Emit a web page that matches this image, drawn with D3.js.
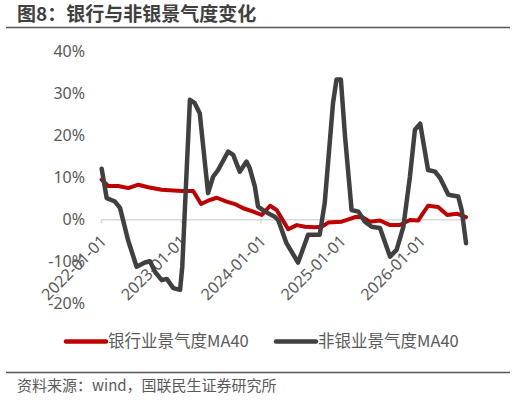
<!DOCTYPE html>
<html>
<head>
<meta charset="utf-8">
<script src="https://cdn.jsdelivr.net/npm/d3@7"></script>
<style>
  body { margin: 0; background: #fff; }
  text { font-family: "Noto Sans", "Noto Sans CJK SC", sans-serif; }
</style>
</head>
<body>
<div id="chart"></div>
<script>
var width = 516;
var height = 400;

// 银行业景气度MA40
var bankDates = ["2022-01-04","2022-02-03","2022-03-21","2022-05-06","2022-06-21","2022-08-05","2022-10-06",
  "2023-01-05","2023-02-27","2023-04-04","2023-05-06","2023-06-15","2023-07-30","2023-09-06","2023-10-14","2023-11-29",
  "2024-01-07","2024-02-14","2024-03-15","2024-04-07","2024-05-07","2024-06-15","2024-07-23","2024-09-06","2024-10-07","2024-11-06",
  "2025-01-07","2025-03-09","2025-04-08","2025-05-16","2025-07-01","2025-08-16","2025-09-30","2025-11-15","2025-12-23",
  "2026-02-06","2026-03-24","2026-05-05","2026-06-17","2026-07-30"];
var bankValues = [9.4,7.9,7.9,7.4,8.2,7.6,7.0,
  6.7,6.7,3.6,4.4,5.1,4.2,3.6,2.6,1.8,
  1.0,3.2,2.2,0.2,-2.4,-1.4,-1.8,-1.9,-1.8,-0.8,
  -0.6,0.5,0.6,-0.6,-0.3,-1.4,-1.4,-0.2,-0.3,
  3.2,2.9,1.0,1.3,0.5];

// 非银业景气度MA40
var nonBankDates = ["2022-01-04","2022-01-27","2022-03-06","2022-03-29","2022-05-05","2022-06-13","2022-07-21","2022-08-13",
  "2022-09-05","2022-10-06","2022-10-29","2022-11-28","2022-12-29",
  "2023-01-08","2023-01-24","2023-02-12","2023-03-06","2023-03-29","2023-05-06","2023-05-29","2023-06-21","2023-08-06",
  "2023-08-29","2023-09-28","2023-10-29","2023-11-13","2023-12-06","2023-12-21",
  "2024-01-22","2024-03-06","2024-03-22","2024-04-29","2024-06-21","2024-08-06","2024-09-28","2024-10-21","2024-11-28","2024-12-14",
  "2025-01-03","2025-01-22","2025-02-21","2025-03-24","2025-04-23","2025-05-24","2025-07-01","2025-08-16","2025-09-15",
  "2025-10-16","2025-11-15","2025-12-08","2026-01-01",
  "2026-02-06","2026-03-10","2026-04-02","2026-05-10","2026-06-24","2026-07-10","2026-07-30"];
var nonBankValues = [12.0,5.0,4.2,2.7,-5.0,-11.3,-10.3,-10.0,
  -12.5,-14.5,-14.2,-16.4,-16.8,
  -11.3,7.0,28.4,27.6,25.2,6.2,10.1,11.7,16.1,
  15.3,11.3,13.7,12.1,7.8,3.0,
  1.8,0.6,-0.2,-5.7,-10.3,-3.7,-3.7,3.8,27.6,33.2,
  33.2,19.7,2.2,1.8,-0.6,-1.8,-2.1,-8.9,-7.3,
  -1.8,10.1,21.3,22.7,
  11.7,11.3,9.8,5.8,5.4,2.2,-5.7];

var yTicks = [-20, -10, 0, 10, 20, 30, 40];
var xTicks = ["2022-01-01","2023-01-01","2024-01-01","2025-01-01","2026-01-01"];
var seriesNames = ["银行业景气度MA40", "非银业景气度MA40"];
var seriesColors = ["#c00000", "#404040"];

var parse = d3.utcParse("%Y-%m-%d");
var fmt = d3.utcFormat("%Y-%m-%d");

var bank = bankDates.map(function(d, i) { return {date: parse(d), value: bankValues[i]}; });
var nonBank = nonBankDates.map(function(d, i) { return {date: parse(d), value: nonBankValues[i]}; });

var xScale = d3.scaleUtc().domain([parse("2022-01-01"), parse("2026-08-01")]).range([101, 466.5]);
var yScale = d3.scaleLinear().domain([-20, 40]).range([303.3, 51]);

var svg = d3.select("#chart").append("svg")
    .attr("width", width)
    .attr("height", height);

// title
svg.append("text")
    .attr("x", 17).attr("y", 21)
    .attr("font-size", 19).attr("font-weight", "bold")
    .attr("fill", "#404040")
    .style("font-family", '"Noto Sans CJK SC", sans-serif')
    .text("图8：银行与非银景气度变化");

svg.append("line")
    .attr("x1", 6).attr("x2", 510).attr("y1", 27.5).attr("y2", 27.5)
    .attr("stroke", "#555").attr("stroke-width", 1.5);

// y axis
var yAxis = d3.axisLeft(yScale)
    .tickValues(yTicks)
    .tickSize(0)
    .tickPadding(15)
    .tickFormat(function(d) { return d + "%"; });

var gy = svg.append("g")
    .attr("transform", "translate(100,0)")
    .call(yAxis);
gy.select(".domain").remove();
gy.selectAll("text").attr("font-size", 16).attr("fill", "#595959")
    .style("font-family", '"Noto Sans", sans-serif');

// x axis on zero line
var xAxis = d3.axisBottom(xScale)
    .tickValues(xTicks.map(parse))
    .tickSize(4)
    .tickSizeOuter(0)
    .tickFormat(fmt);

var gx = svg.append("g")
    .attr("transform", "translate(0," + yScale(0) + ")")
    .call(xAxis);
gx.select(".domain").attr("stroke", "#d9d9d9").attr("stroke-width", 1.5);
gx.selectAll(".tick line").attr("stroke", "#d9d9d9").attr("stroke-width", 1.5);
gx.selectAll("text")
    .attr("font-size", 16).attr("fill", "#595959")
    .style("font-family", '"Noto Sans", sans-serif')
    .attr("text-anchor", "end")
    .attr("dy", "0.35em")
    .attr("transform", "translate(-3,14) rotate(-45)");

// lines
var line = d3.line()
    .x(function(d) { return xScale(d.date); })
    .y(function(d) { return yScale(d.value); });

[bank, nonBank].forEach(function(s, i) {
  svg.append("path")
      .attr("d", line(s))
      .attr("fill", "none")
      .attr("stroke", seriesColors[i])
      .attr("stroke-width", i == 0 ? 4 : 4.5)
      .attr("stroke-linejoin", "round")
      .attr("stroke-linecap", "round");
});

// legend
var legendX = [66, 276];
seriesNames.forEach(function(name, i) {
  var g = svg.append("g").attr("transform", "translate(" + legendX[i] + ",341.5)");
  g.append("line")
      .attr("x1", 0).attr("x2", 40)
      .attr("stroke", seriesColors[i]).attr("stroke-width", 4.5)
      .attr("stroke-linecap", "round");
  g.append("text")
      .attr("x", 42).attr("y", 0).attr("dy", "0.35em")
      .attr("font-size", 16.5).attr("fill", "#595959")
      .style("font-family", '"Noto Sans CJK SC", sans-serif')
      .text(name);
});

svg.append("line")
    .attr("x1", 6).attr("x2", 510).attr("y1", 372.5).attr("y2", 372.5)
    .attr("stroke", "#555").attr("stroke-width", 1.5);

svg.append("text")
    .attr("x", 17).attr("y", 391)
    .attr("font-size", 15).attr("fill", "#595959")
    .style("font-family", '"Noto Sans CJK SC", sans-serif')
    .text("资料来源：wind，国联民生证券研究所");
</script>
</body>
</html>
